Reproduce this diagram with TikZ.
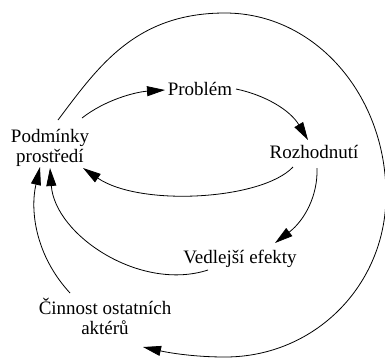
\documentclass[tikz,border=0pt]{standalone}
\usepackage{fontspec}
\setmainfont{Liberation Serif}
\usetikzlibrary{arrows.meta}
\begin{document}
\begin{tikzpicture}[x=1pt,y=-1pt,
  lbl/.style={inner sep=0pt,align=center,font=\fontsize{19}{20}\selectfont},
  flow/.style={line width=0.8pt,-{Triangle[length=18pt,width=10pt]}}]
\useasboundingbox (0,0) rectangle (385,360);

% the five states
\node[lbl] (pod) at (50,147.6) {Podmínky\\prostředí};
\node[lbl,anchor=base] (prob) at (200,95) {Problém};
\node[lbl,anchor=base] (roz) at (314,158) {Rozhodnutí};
\node[lbl,anchor=base] (ved) at (240,263) {Vedlejší efekty};
\node[lbl] (cin) at (105,316.9) {Činnost ostatních\\aktérů};

% inner cycle
\draw[flow] ([shift={(32,-29.6)}]pod.center)
  .. controls (105,100) and (135,92) .. ([shift={(-35,-5)}]prob.base);
\draw[flow] ([shift={(36,-6)}]prob.base)
  .. controls (265,95) and (290,110) .. ([shift={(-6,-18)}]roz.base);
\draw[flow] ([shift={(-21,9)}]roz.base)
  .. controls (262,200) and (140,207) .. ([shift={(33,20.4)}]pod.center);

% side effects loop
\draw[flow] ([shift={(3,10)}]roz.base)
  .. controls (318,195) and (305,220) .. ([shift={(35,-20)}]ved.base);
\draw[flow] ([shift={(-32,7)}]ved.base)
  .. controls (140,292) and (55,235) .. ([shift={(0,20.4)}]pod.center);

% other actors
\draw[flow] ([shift={(-35,-23.9)}]cin.center)
  .. controls (35,255) and (30,210) .. ([shift={(-10,19.4)}]pod.center);

% outer loop round the whole diagram
\draw[flow] ([shift={(8,-27.6)}]pod.center)
  .. controls (98,67) and (135,13) .. (225,13)
  .. controls (315,13) and (386,95) .. (386,195)
  .. controls (386,285) and (315,357) .. (225,357)
  .. controls (195,357) and (170,353) .. ([shift={(38,30.1)}]cin.center);
\end{tikzpicture}
\end{document}
